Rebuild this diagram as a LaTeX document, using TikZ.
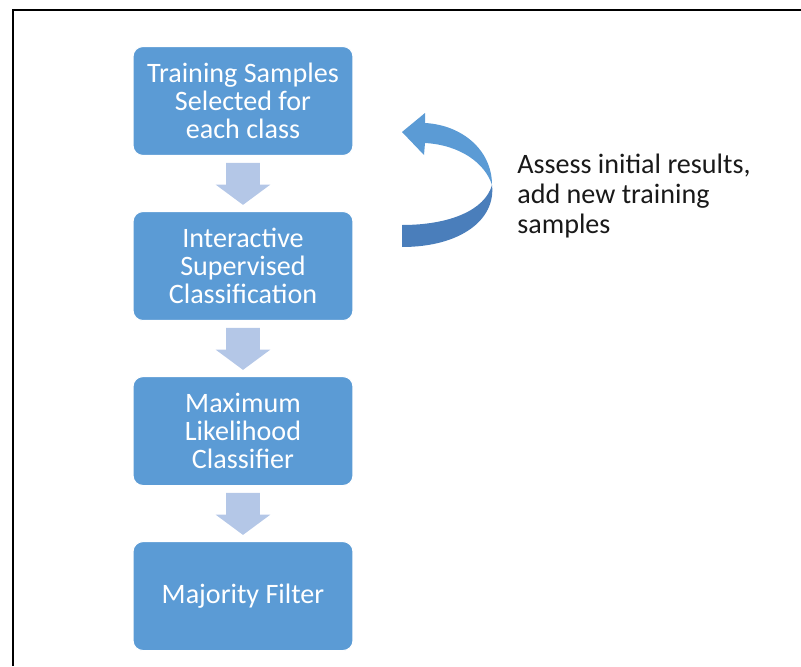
\documentclass[tikz,border=0pt]{standalone}
\usepackage{fontspec}
\setmainfont{Carlito}
\usetikzlibrary{positioning,shapes.arrows,calc}

\definecolor{boxblue}{HTML}{5B9BD5}
\definecolor{lightblue}{HTML}{B4C7E7}
\definecolor{shadeblue}{HTML}{4A7EBB}

\tikzset{
  stage/.style={rectangle, rounded corners=0.2cm, fill=boxblue, draw=white,
    line width=0.6pt, text=white, minimum width=4.4cm, minimum height=2.18cm,
    align=center, font=\fontsize{16}{15.9}\selectfont},
  downarrow/.style={single arrow, fill=lightblue, rotate=-90, inner sep=0pt,
    anchor=tail, minimum height=0.84cm, single arrow head extend=0.21cm,
    single arrow tip angle=107, single arrow head indent=0pt}
}

\begin{document}
\begin{tikzpicture}[x=0.02cm,y=-0.02cm]
\useasboundingbox (0,0) rectangle (801,666);
\draw[line width=0.05cm] (13,666) |- (801,10);

\node[stage] (train) at (243,101) {Training Samples\\Selected for\\each class};
\node[stage, below=1.1cm of train] (interactive) {Interactive\\Supervised\\Classification};
\node[stage, below=1.1cm of interactive] (maxlike) {Maximum\\Likelihood\\Classifier};
\node[stage, below=1.1cm of maxlike] (majority) {Majority Filter};

\node[downarrow] (a1) at ($(train.south)+(0,-0.13cm)$) {\rule{0pt}{0.66cm}};
\node[downarrow] (a2) at ($(interactive.south)+(0,-0.13cm)$) {\rule{0pt}{0.66cm}};
\node[downarrow] (a3) at ($(maxlike.south)+(0,-0.13cm)$) {\rule{0pt}{0.66cm}};

% loop back arrow, upper half lighter
\fill[boxblue] (492,185) .. controls (492,150) and (462,125) .. (425,123)
  -- (425,113) -- (402,132) -- (424,155) -- (425,143)
  .. controls (460,145) and (485,163) .. (492,185) -- cycle;
\fill[shadeblue] (492,185) .. controls (496,220) and (460,247) .. (402,247)
  -- (402,225) .. controls (450,225) and (485,210) .. (492,185) -- cycle;

\node[anchor=west, align=left, inner sep=0pt, text=black!90,
  font=\fontsize{16}{17}\selectfont] (note) at (517,196)
  {Assess initial results,\\add new training\\samples};
\end{tikzpicture}
\end{document}
